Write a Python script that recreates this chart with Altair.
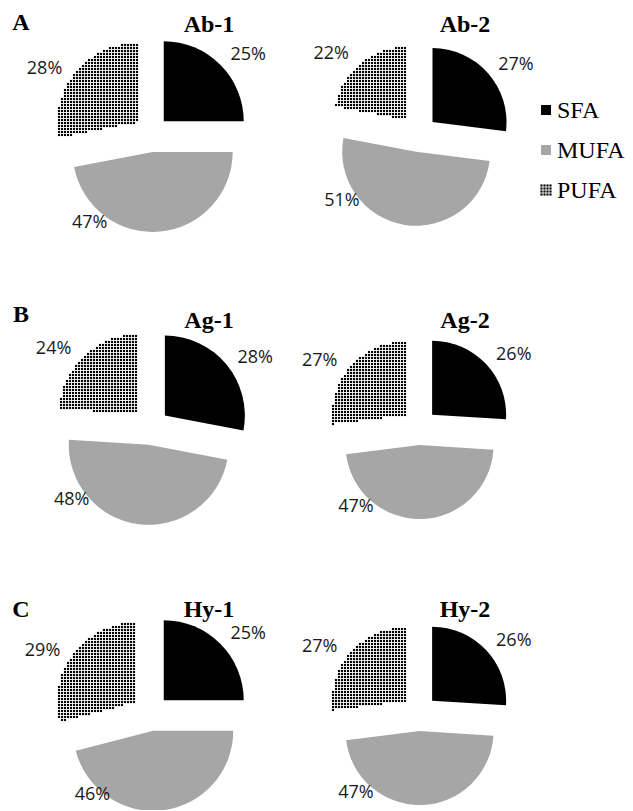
import altair as alt
import pandas as pd

# ---------------- data ----------------
panels = ["Ab-1", "Ab-2", "Ag-1", "Ag-2", "Hy-1", "Hy-2"]
groups = ["A", "B", "C"]
categories = ["SFA", "MUFA", "PUFA"]
sfa = [25, 27, 28, 26, 25, 26]
mufa = [47, 51, 48, 47, 46, 47]
pufa = [28, 22, 24, 27, 29, 27]

# ---------------- layout / style ----------------
W, H = 617, 802
COL_X = [151, 419]          # pie centre x per column (page px)
ROW_Y = [134, 427, 713]     # pie centre y per row
RADIUS = [80, 74]           # pie radius per column
EXPLODE = 18
TITLE_X = [209, 465]
TITLE_BASE = [32, 328, 617]
LETTER_BASE = [30, 322, 617]
LABEL_Y_MAX = 795           # keep labels inside the page
COLORS = ["#000000", "#a6a6a6", "#ffffff"]
STEP = 3                    # dot pattern pitch
N = 57

rows = []
for k, p in enumerate(panels):
    for ci, (cat, vals) in enumerate(zip(categories, [sfa, mufa, pufa])):
        rows.append({"panel": p, "row": k // 2, "col": k % 2,
                     "category": cat, "order": ci, "value": vals[k]})
df = pd.DataFrame(rows)

xs = alt.Scale(domain=[8, 8 + W], nice=False, zero=False)
ys = alt.Scale(domain=[8, 8 + H], nice=False, zero=False, reverse=True)


def X(f):
    return alt.X(f, type="quantitative", scale=xs, axis=None)


def Y(f):
    return alt.Y(f, type="quantitative", scale=ys, axis=None)


base = (
    alt.Chart(df)
    .transform_window(cum="sum(value)", groupby=["panel"],
                      sort=[alt.SortField("order")], frame=[None, 0])
    .transform_joinaggregate(total="sum(value)", groupby=["panel"])
    .transform_calculate(start="2*PI*(datum.cum - datum.value)/datum.total")
    .transform_calculate(end="2*PI*datum.cum/datum.total")
    .transform_calculate(mid="(datum.start + datum.end)/2")
    .transform_calculate(cx=f"{COL_X}[datum.col]")
    .transform_calculate(cy=f"{ROW_Y}[datum.row]")
    .transform_calculate(R=f"{RADIUS}[datum.col]")
    .transform_calculate(ex=f"datum.cx + {EXPLODE}*sin(datum.mid)")
    .transform_calculate(ey=f"datum.cy - {EXPLODE}*cos(datum.mid)")
)

arcs = base.transform_filter("datum.category != 'PUFA'").mark_arc().encode(
    x=X("ex"),
    y=Y("ey"),
    theta=alt.Theta("start:Q", scale=None, stack=None),
    theta2="end:Q",
    radius=alt.Radius("R:Q", scale=None),
    color=alt.Color("category:N", scale=alt.Scale(domain=categories, range=COLORS), legend=None),
)

dots = (
    base.transform_filter("datum.category == 'PUFA'")
    .transform_calculate(k=f"sequence(0, {N * N})")
    .transform_flatten(["k"])
    .transform_calculate(px=f"round(datum.ex) + (datum.k % {N} - {N // 2})*{STEP}")
    .transform_calculate(py=f"round(datum.ey) + (floor(datum.k / {N}) - {N // 2})*{STEP}")
    .transform_calculate(dr="sqrt(pow(datum.px - datum.ex, 2) + pow(datum.py - datum.ey, 2))")
    .transform_calculate(da="(atan2(datum.px - datum.ex, datum.ey - datum.py) + 2*PI) % (2*PI)")
    .transform_filter("datum.dr <= datum.R - 0.5 && datum.da >= datum.start && datum.da <= datum.end")
    .mark_square(size=4.5, color="black", opacity=1, strokeWidth=0)
    .encode(x=X("px"), y=Y("py"))
)

labels = (
    base.transform_calculate(
        la="datum.category == 'SFA' ? datum.mid + 6*PI/180 : "
           "(datum.category == 'PUFA' ? datum.mid - 8*PI/180 : datum.mid + 40*PI/180)"
    )
    .transform_calculate(lr="datum.R + (datum.category == 'MUFA' ? 28 : 45)")
    .transform_calculate(lx="datum.cx + datum.lr*sin(datum.la)")
    .transform_calculate(ly=f"min(datum.cy - datum.lr*cos(datum.la), {LABEL_Y_MAX})")
    .transform_calculate(txt="datum.value + '%'")
    .mark_text(font="Open Sans", fontSize=18, color="#1a1a1a", baseline="middle", align="center")
    .encode(x=X("lx"), y=Y("ly"), text="txt:N")
)

tdf = pd.DataFrame({"panel": panels, "row": [k // 2 for k in range(6)], "col": [k % 2 for k in range(6)]})
titles = (
    alt.Chart(tdf)
    .transform_calculate(tx=f"{TITLE_X}[datum.col]", ty=f"{TITLE_BASE}[datum.row]")
    .mark_text(font="Liberation Serif", fontWeight="bold", fontSize=24, color="black",
               align="center", baseline="alphabetic")
    .encode(x=X("tx"), y=Y("ty"), text="panel:N")
)

gdf = pd.DataFrame({"group": groups, "row": [0, 1, 2]})
letters = (
    alt.Chart(gdf)
    .transform_calculate(gx="21", gy=f"{LETTER_BASE}[datum.row]")
    .mark_text(font="Liberation Serif", fontWeight="bold", fontSize=24, color="black",
               align="center", baseline="alphabetic")
    .encode(x=X("gx"), y=Y("gy"), text="group:N")
)

ldf = pd.DataFrame({"category": categories, "order": [0, 1, 2]})
leg_base = alt.Chart(ldf).transform_calculate(
    sx="546", sy="110 + datum.order*40", tx="557", ty="118 + datum.order*40"
)
leg_sq = leg_base.transform_filter("datum.category != 'PUFA'").mark_square(size=100, opacity=1, strokeWidth=0).encode(
    x=X("sx"), y=Y("sy"),
    color=alt.Color("category:N", scale=alt.Scale(domain=categories, range=COLORS), legend=None),
)
leg_dots = (
    leg_base.transform_filter("datum.category == 'PUFA'")
    .transform_calculate(k="sequence(0, 16)")
    .transform_flatten(["k"])
    .transform_calculate(px="datum.sx - 4.5 + (datum.k % 4)*3", py="datum.sy - 4.5 + floor(datum.k/4)*3")
    .mark_square(size=4.5, color="black", opacity=1, strokeWidth=0)
    .encode(x=X("px"), y=Y("py"))
)
leg_txt = leg_base.mark_text(font="Liberation Serif", fontSize=24, color="black",
                             align="left", baseline="alphabetic").encode(
    x=X("tx"), y=Y("ty"), text="category:N"
)

chart = (
    alt.layer(arcs, dots, labels, titles, letters, leg_sq, leg_dots, leg_txt)
    .properties(width=W, height=H, padding=0, autosize=alt.AutoSizeParams(type="none"))
    .configure_view(stroke=None)
)

chart.save("out.html", embed_options={"renderer": "svg", "actions": False})
